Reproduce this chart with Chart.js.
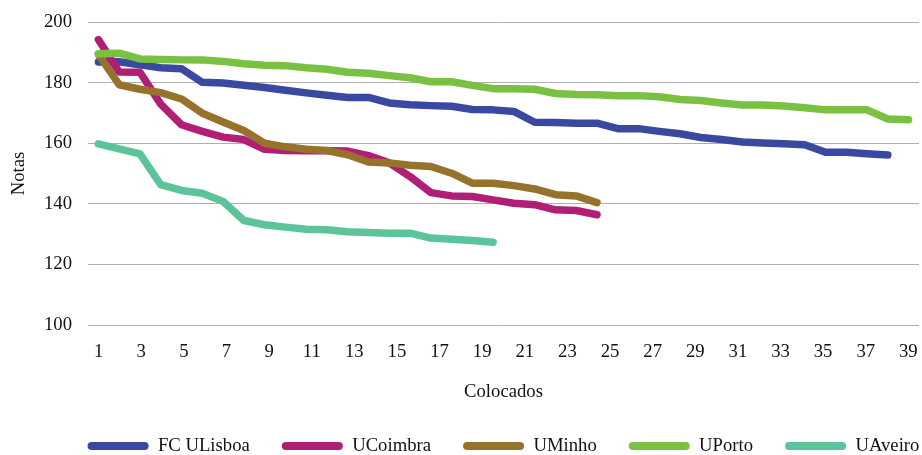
<!DOCTYPE html>
<html lang="pt">
<head>
<meta charset="utf-8">
<title>Notas dos colocados</title>
<script src="https://cdn.jsdelivr.net/npm/chart.js@4.4.1/dist/chart.umd.min.js"></script>
<style>
  body { margin: 0; background: #fff; }
  #wrap { width: 922px; height: 455px; }
</style>
</head>
<body>
<div id="wrap"><canvas id="grafico"></canvas></div>
<script>
// posições dos colocados (eixo dos dados)
const POSICOES = ['1', '2', '3', '4', '5', '6', '7', '8', '9', '10',
    '11', '12', '13', '14', '15', '16', '17', '18', '19', '20',
    '21', '22', '23', '24', '25', '26', '27', '28', '29', '30',
    '31', '32', '33', '34', '35', '36', '37', '38', '39', '40'];

// etiquetas visíveis do eixo horizontal
const ETIQUETAS_X = [1, 3, 5, 7, 9, 11, 13, 15, 17, 19, 21, 23, 25, 27, 29, 31, 33, 35, 37, 39];

const FC_ULISBOA = [186.8, 186.9, 185.9, 184.9, 184.6, 180.1, 179.9, 179.1, 178.4, 177.5,
    176.6, 175.8, 175.1, 175.1, 173.3, 172.7, 172.4, 172.2, 171.1, 171.0,
    170.5, 166.9, 166.8, 166.6, 166.6, 164.8, 164.8, 163.9, 163.1, 161.9,
    161.2, 160.4, 160.1, 159.8, 159.5, 157.0, 157.0, 156.5, 156.1];

const U_COIMBRA = [194.2, 183.5, 183.4, 172.9, 166.1, 163.9, 162.0, 161.2, 158.0, 157.6,
    157.5, 157.5, 157.4, 155.9, 153.5, 149.0, 143.7, 142.6, 142.4, 141.3,
    140.2, 139.7, 138.0, 137.8, 136.4];

const U_MINHO = [189.3, 179.3, 177.8, 176.7, 174.6, 169.9, 167.0, 164.2, 160.0, 158.8,
    158.0, 157.6, 156.2, 153.8, 153.5, 152.7, 152.3, 150.1, 146.8, 146.8,
    146.0, 144.9, 143.0, 142.6, 140.4];

const U_PORTO = [189.5, 189.7, 187.8, 187.6, 187.5, 187.5, 187.0, 186.2, 185.7, 185.6,
    184.9, 184.4, 183.4, 183.1, 182.3, 181.6, 180.3, 180.3, 179.1, 178.0,
    178.0, 177.8, 176.4, 176.1, 176.0, 175.7, 175.7, 175.3, 174.4, 174.1,
    173.3, 172.6, 172.6, 172.3, 171.7, 171.0, 171.0, 171.0, 168.0, 167.7];

const U_AVEIRO = [159.8, 158.1, 156.5, 146.3, 144.4, 143.5, 140.8, 134.5, 133.1, 132.3,
    131.6, 131.4, 130.8, 130.5, 130.3, 130.3, 128.7, 128.3, 127.9, 127.3];

Chart.defaults.font.family = "'Liberation Serif', 'Times New Roman', serif";
Chart.defaults.font.size = 18.7;
Chart.defaults.color = '#111';

function serie(nome, valores, cor, ordem) {
    return {
        label: nome,
        data: valores,
        borderColor: cor,
        backgroundColor: cor,
        borderWidth: 7.5,
        borderCapStyle: 'round',
        borderJoinStyle: 'round',
        pointRadius: 0,
        pointHoverRadius: 0,
        tension: 0,
        fill: false,
        order: ordem
    };
}

// centra a legenda sob a área do gráfico, perto do fundo
const moverLegenda = {
    id: 'moverLegenda',
    afterLayout(chart) {
        const lg = chart.legend;
        const dx = (chart.chartArea.left + chart.chartArea.right) / 2 - (lg.left + lg.right) / 2;
        const dy = 404.65 - lg.top;
        lg.left += dx;
        lg.right += dx;
        lg.top += dy;
        lg.bottom += dy;
    }
};

const ctx = document.getElementById('grafico').getContext('2d');

new Chart(ctx, {
    type: 'line',
    data: {
        labels: POSICOES,
        datasets: [
            serie('FC ULisboa', FC_ULISBOA, '#3A49A0', 5),
            serie('UCoimbra', U_COIMBRA, '#B01E76', 4),
            serie('UMinho', U_MINHO, '#96722C', 3),
            serie('UPorto', U_PORTO, '#7AC142', 2),
            serie('UAveiro', U_AVEIRO, '#5CC49A', 1)
        ]
    },
    plugins: [moverLegenda],
    options: {
        responsive: true,
        maintainAspectRatio: false,
        animation: false,
        layout: { padding: { top: 22, right: 3, bottom: 0, left: 0 } },
        plugins: {
            tooltip: { enabled: false },
            legend: {
                position: 'bottom',
                labels: {
                    boxWidth: 61,
                    boxHeight: 8,
                    padding: 32,
                    generateLabels: function (chart) {
                        const base = Chart.defaults.plugins.legend.labels.generateLabels(chart);
                        return base.map(item => Object.assign(item, { lineWidth: 0, borderRadius: 4 }));
                    },
                    sort: (a, b) => a.datasetIndex - b.datasetIndex
                }
            }
        },
        scales: {
            x: {
                type: 'category',
                offset: true,
                display: false
            },
            xEtiquetas: {
                type: 'linear',
                position: 'bottom',
                min: 0.5,
                max: 39.5,
                afterBuildTicks: function (axis) {
                    axis.ticks = ETIQUETAS_X.map(v => ({ value: v }));
                },
                afterFit: function (axis) {
                    axis.height = axis.chart.height - axis.chart.legend.height - 325;
                    axis.paddingLeft = 0;
                    axis.paddingRight = 0;
                },
                grid: { display: false, drawTicks: false },
                border: { display: false },
                ticks: { autoSkip: false, maxRotation: 0, padding: 16 },
                title: { display: true, text: 'Colocados', padding: { top: 0, bottom: -8.9 } }
            },
            y: {
                min: 100,
                max: 200,
                afterFit: function (axis) {
                    axis.width = 88;
                    axis.paddingTop = 0;
                    axis.paddingBottom = 0;
                },
                ticks: { stepSize: 20, padding: 16 },
                grid: { color: '#b0b0b0', lineWidth: 1, drawTicks: false },
                border: { display: false },
                title: { display: true, text: 'Notas', padding: { top: 8.3, bottom: 0 } }
            }
        }
    }
});
</script>
</body>
</html>
